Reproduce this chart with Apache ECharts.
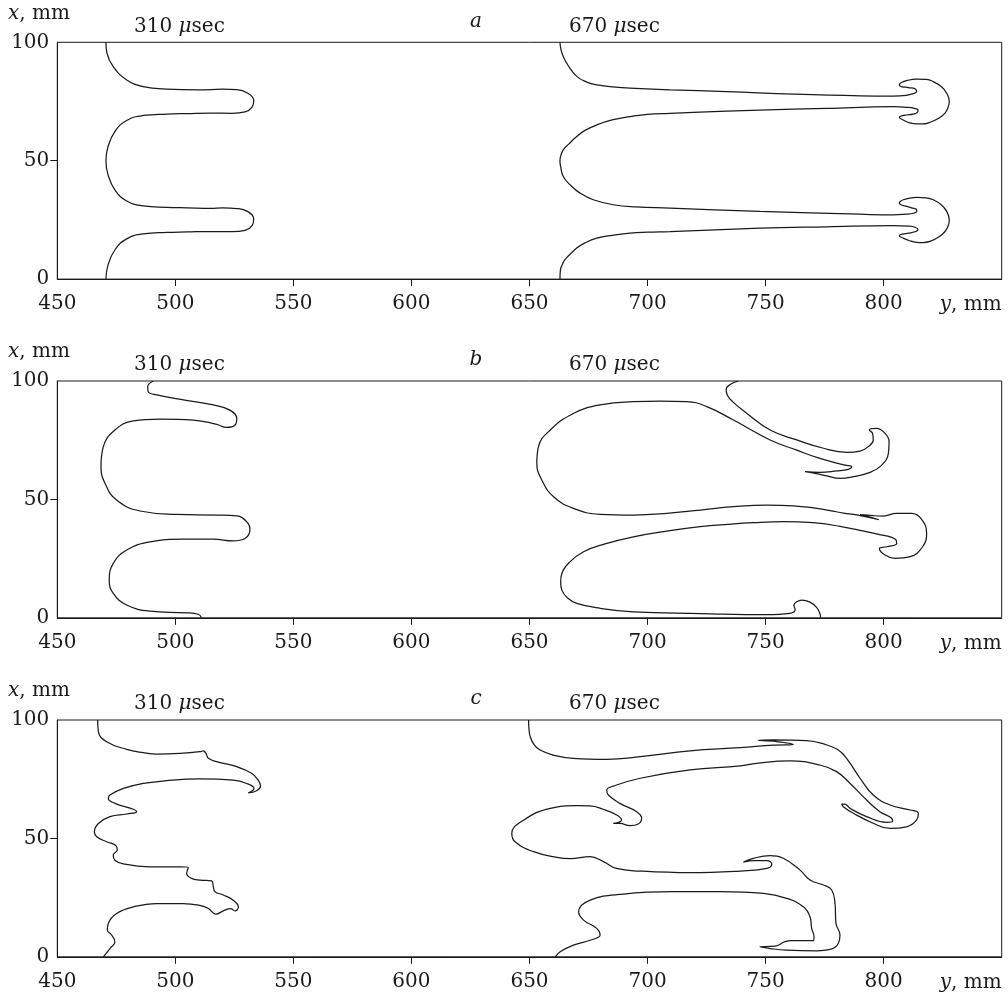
<!DOCTYPE html>
<html><head><meta charset="utf-8">
<script src="https://cdn.jsdelivr.net/npm/echarts@6/dist/echarts.min.js"></script>
<style>html,body{margin:0;padding:0;background:#fff}#c{width:1008px;height:999px}</style>
</head><body><div id="c"></div>
<script>
// Horizontal axis: y, mm ; vertical axis: x, mm. Points are [y, x].
const yTicks = [450, 500, 550, 600, 650, 700, 750, 800];
const xTicks = [0, 50, 100];
const panelLetters = ['a', 'b', 'c'];
const timeLabels = ['310 \u03bcsec', '670 \u03bcsec'];

const a310 = [[470.6,100],[471.0,95.5],[473.7,89.7],[479.4,84.1],[486.4,81.3],[496.3,80.2],[510,79.9],[520,80.2],[526,80.0],[530.5,78.6],[533.2,75.5],[532.5,72.6],[529.5,70.6],[524,70.0],[515,70.1],[505,69.9],[496.3,69.7],[486.4,69.1],[479.4,67.0],[474.5,62.5],[471.5,56],[470.6,50],[471.5,44],[474.5,37.5],[479.4,33.0],[486.4,30.9],[496.3,30.3],[505,30.1],[515,29.9],[520,30.1],[526,29.8],[530.5,28.6],[533.2,25.5],[532.5,22.6],[529.5,20.6],[524,20.0],[515,20.1],[505,19.9],[496.3,19.7],[486.4,19.1],[479.4,17.0],[474.5,12.5],[471.5,6],[470.6,0]];

const a670 = [[662.9,100],[663.3,97],[664.3,94.0],[666.5,90],[670.0,85.6],[674,83.3],[678.5,82.0],[685,81.2],[692.6,80.6],[709.5,79.9],[733.5,79.2],[761.7,78.1],[790.0,77.4],[804.1,77.3],[809.5,77.6],[812.5,78.3],[814.0,79.2],[813.3,80.4],[810.5,80.9],[807.5,81.3],[806.6,82.0],[807.5,83.0],[810,83.9],[814.0,84.4],[818,84.3],[821.0,83.4],[824.5,81.2],[826.7,78.5],[827.8,75.0],[827.2,72.3],[826.0,70.1],[823.5,68],[819.6,66.2],[816.5,65.5],[814.0,65.5],[811,66],[808.3,67.2],[806.6,68.3],[808,69.0],[809.8,69.3],[812.5,69.7],[814.3,70.4],[814.6,71.4],[813,72.1],[810.5,72.5],[804.1,72.8],[775.9,72.1],[747.6,71.4],[719.4,70.4],[709.5,70.0],[700,69.6],[692.6,68.6],[685,67.2],[678.5,65.1],[673.5,62.8],[670.0,60.2],[666.6,57],[664.3,54.6],[663.2,52],[662.9,49.9],[663.2,47.5],[664.3,43.3],[667.5,39.5],[671.4,36.3],[677,33.5],[685.5,31.4],[695,30.5],[709.5,30.0],[747.6,28.6],[790,27.4],[804.1,27.1],[809.5,27.4],[812.6,27.8],[814,28.6],[814,29.3],[811.8,30.1],[809.8,30.7],[807.5,31.3],[806.6,32.1],[807.2,32.9],[808.3,33.5],[811,34.2],[814,34.5],[818,34.3],[821,33.5],[824.5,31.3],[826.7,28.6],[827.8,25.0],[827.3,22.4],[826,20.1],[823.5,17.9],[819.6,15.9],[816.5,15.4],[814,15.5],[811,16.2],[808.3,17.3],[806.6,18.3],[808,19.0],[810.5,19.4],[813.3,20.0],[814.6,20.8],[813.3,21.9],[810.5,22.4],[804.1,22.6],[775.9,22.1],[747.6,21.5],[709.5,20.1],[700,19.8],[692.6,19.4],[685,18.5],[678.5,17.3],[673.5,15.3],[670,13.1],[667.2,10.5],[665,8.2],[663.6,5.5],[663.1,3.9],[662.9,0]];

const b310 = [[490.7,100],[488.3,97.6],[488.5,95.5],[492.1,94.1],[503.4,92.0],[516.1,89.9],[523.1,87.7],[526.0,84.2],[525.3,81.4],[521.7,80.4],[517.5,81.7],[507.6,83.5],[493.5,83.9],[482.2,83.2],[474.4,79.3],[469.5,72.3],[468.5,63.8],[470.2,56.8],[475.1,49.7],[485.0,45.1],[500.5,43.7],[517.5,43.4],[526.0,43.0],[530.2,40.6],[531.6,37.5],[529.5,33.5],[524.5,32.5],[516.1,33.2],[503.4,33.2],[489.2,32.1],[479.4,28.6],[473.7,23.0],[472.0,15.9],[473.7,10.3],[479.4,5.4],[489.2,2.8],[504.8,2.1],[509.7,1.5],[511.1,0]];

const b670 = [[738.5,100],[735,98.5],[733.3,96.5],[733.8,94],[736,91.3],[742.1,86.3],[751.9,79.3],[763.2,75.1],[774.5,71.6],[784.3,69.9],[790.0,70.4],[793.5,72.3],[795.6,75.1],[795.3,77.9],[793.9,79.3],[797.0,80.0],[800.6,77.9],[802.3,74.4],[802.0,69.4],[799.2,64.5],[794.2,61.4],[787.2,59.6],[781.5,58.9],[775.9,59.9],[770.9,61.0],[766.7,61.7],[773.0,61.4],[780.1,62.0],[785.0,62.7],[786.5,63.8],[783.6,64.5],[773.0,67.3],[763.2,70.8],[751.9,75.1],[736.4,83.5],[725.1,89.2],[716.6,91.3],[705.3,91.5],[694.0,91.3],[679.9,89.9],[668.6,86.3],[658.8,79.3],[653.8,72.3],[653.1,65.2],[655.2,58.2],[660.2,51.1],[668.6,46.2],[679.9,43.7],[694.0,43.4],[708.2,44.1],[722.3,45.5],[736.4,46.9],[750.5,47.6],[761.8,47.3],[771.7,46.2],[777.3,45.3],[783,44.2],[788.6,43.5],[798.0,41.4],[794.2,42.5],[790.0,43.6],[794.2,43.3],[799.2,42.9],[805.5,44.1],[811.9,44.1],[816.1,41.6],[818.2,35.6],[816.5,30.0],[811.2,25.8],[804.8,25.1],[800.6,26.5],[798.2,29.3],[801.3,30.0],[805.5,31.4],[805.1,33.1],[797.0,35.4],[781.5,38.6],[770,40.2],[757.6,40.6],[745,40.2],[734,39.5],[722.3,38.5],[708,36.6],[694.0,34.2],[682,31.2],[672.9,27.9],[667,23.5],[663.7,18.7],[663.2,15],[663.7,11.7],[666,8.5],[670.0,6.1],[680,4],[694.0,2.5],[722.3,1.8],[750.5,1.3],[760.3,1.9],[762.5,3.5],[762.0,5.4],[763.2,6.8],[765.3,7.5],[768.8,6.6],[771.6,4.4],[773.0,1.8],[773.3,0]];

const c310 = [[467.1,100],[467.4,95.1],[470.9,90.8],[479.4,87.6],[486.4,86.2],[492.1,85.6],[502.0,85.9],[510.4,86.6],[511.8,87.0],[513.0,85.9],[514.0,83.8],[517.5,82.4],[526.0,80.3],[532.3,77.5],[535.1,74.6],[536.1,72.1],[534.4,70.1],[530.9,69.2],[533.3,71.1],[530.2,73.2],[524.5,74.6],[510.4,75.1],[496.3,74.4],[486.4,73.2],[478.0,71.1],[472.3,68.3],[471.6,66.9],[474.4,64.8],[482.2,62.3],[483.6,61.3],[479.4,60.3],[472.3,59.2],[467.4,56.3],[465.7,52.8],[466.7,50.7],[470.9,48.6],[474.8,47.0],[475.4,45.1],[473.7,43.0],[474.4,40.8],[478.0,39.2],[489.2,38.0],[502.0,38.0],[505.5,37.7],[504.8,35.2],[506.9,33.1],[510.4,32.4],[515.4,32.1],[516.1,29.6],[516.8,27.5],[520.3,26.1],[524.5,23.9],[526.7,21.1],[525.3,19.4],[523.4,20.3],[520.3,19.4],[517.2,18.0],[514.0,20.4],[510.4,21.7],[503.4,22.5],[492.1,22.5],[482.2,21.1],[475.1,18.3],[471.6,14.1],[471.2,11.3],[473.0,9.2],[474.4,6.3],[472.3,3.5],[469.5,0]];

const c670 = [[649.6,100],[649.8,96],[650.3,93.0],[652,89.5],[654.5,87.3],[660,85.2],[668.6,83.8],[682.8,83.4],[696.9,84.5],[718.0,87.0],[739.2,88.3],[753.3,89.4],[761.7,89.7],[754.7,90.9],[746.9,91.4],[753.3,91.6],[767.4,91.3],[775.2,89.7],[780.8,87.3],[784.3,83.8],[790.0,75.4],[795.6,68.3],[802.7,64.1],[811.2,62.0],[814.7,60.6],[814.0,57.8],[809.7,54.9],[802.7,54.2],[795.6,56.4],[787.2,60.6],[782.9,63.4],[782.2,64.5],[783.6,64.5],[785.7,62.7],[792.8,59.2],[801.3,56.8],[803.8,57.1],[803.4,58.5],[798.4,61.3],[792.8,66.2],[785.7,73.3],[780.1,78.2],[773.0,81.0],[760.3,82.7],[746.2,81.7],[739.2,80.6],[718.0,78.9],[696.9,75.4],[685.6,72.1],[682.7,70.4],[683.4,68.3],[688.3,64.8],[695.4,61.3],[697.5,58.5],[696.1,56.1],[692.6,55.4],[688.3,56.3],[685.5,56.3],[689.0,57.8],[686.9,59.9],[681.3,62.3],[675.6,63.7],[670.0,63.8],[658.8,62.7],[647.5,57.7],[642.5,52.1],[643.9,48.6],[651.7,44.4],[661.6,42.0],[667.3,41.5],[675.6,42.3],[681.3,40.2],[686.9,37.3],[696.8,36.2],[718.0,35.5],[739.2,36.2],[750.5,37.3],[752.6,39.2],[750.5,40.6],[745.5,40.6],[740.6,40.0],[744.8,41.6],[751.9,42.7],[757.5,41.6],[764.6,36.6],[768.8,32.4],[774.5,30.3],[778.0,28.2],[779.4,22.5],[779.8,14.1],[781.5,9.2],[780.8,5.6],[777.3,3.1],[771.6,2.5],[758.9,2.8],[751.9,3.5],[747.6,4.2],[754.0,4.5],[758.2,6.4],[761.1,6.8],[770.2,6.8],[770.5,8.5],[769.5,12.0],[768.8,16.9],[766.0,21.1],[758.9,24.7],[749.1,26.8],[730.7,27.5],[711.0,27.5],[689.8,26.5],[675.7,23.9],[670.8,19.0],[672.9,15.5],[678.5,12.0],[679.9,9.2],[675.7,7.0],[668.6,4.9],[663.0,2.1],[660.9,0]];

const panels = [[a310, a670], [b310, b670], [c310, c670]];

const FONT = 'DejaVu Serif';
const INK = '#1a1a1a';
const gridTops = [42.3, 381, 720];
const gridH = 236.8;
const gridLeft = 57.3, gridRight = 6.3;

const grids = [], xAxes = [], yAxes = [], series = [], graphics = [];
gridTops.forEach((top, i) => {
  grids.push({left: gridLeft, right: gridRight, top: top, height: gridH, show: true, borderColor: INK, borderWidth: 1, backgroundColor: 'transparent'});
  xAxes.push({type: 'value', gridIndex: i, min: 450, max: 850, interval: 50,
    axisLine: {show: true, lineStyle: {color: INK, width: 1}},
    axisTick: {show: true, inside: false, length: 7, lineStyle: {color: INK, width: 1}, customValues: yTicks.slice(1)},
    axisLabel: {show: true, margin: 15, fontFamily: FONT, fontSize: 20, color: INK, customValues: yTicks},
    splitLine: {show: false}});
  yAxes.push({type: 'value', gridIndex: i, min: 0, max: 100, interval: 50,
    axisLine: {show: true, lineStyle: {color: INK, width: 1}},
    axisTick: {show: true, inside: false, length: 7, lineStyle: {color: INK, width: 1}, customValues: [50]},
    axisLabel: {show: true, margin: 8, fontFamily: FONT, fontSize: 20, color: INK, customValues: xTicks},
    splitLine: {show: false}});
  panels[i].forEach(curve => {
    series.push({type: 'line', xAxisIndex: i, yAxisIndex: i, data: curve, showSymbol: false, symbol: 'none',
      smooth: 0.45, clip: true, lineStyle: {color: INK, width: 1.25}, animation: false});
  });
  const rich = {i: {fontStyle: 'italic', fontFamily: FONT, fontSize: 20, fill: INK, color: INK}, r: {fontFamily: FONT, fontSize: 20, color: INK}};
  graphics.push({type: 'text', x: 8, y: top - 29, style: {text: '{i|x}{r|, mm}', rich: rich, font: '20px "' + FONT + '"', fill: INK, verticalAlign: 'middle', align: 'left'}});
  graphics.push({type: 'text', x: 134, y: top - 16, style: {text: '{r|310 }{i|\u03bc}{r|sec}', rich: rich, font: '20px "' + FONT + '"', fill: INK, verticalAlign: 'middle', align: 'left'}});
  graphics.push({type: 'text', x: 569, y: top - 16, style: {text: '{r|670 }{i|\u03bc}{r|sec}', rich: rich, font: '20px "' + FONT + '"', fill: INK, verticalAlign: 'middle', align: 'left'}});
  graphics.push({type: 'text', x: 476, y: top - 21, style: {text: panelLetters[i], font: 'italic 20px "' + FONT + '"', fill: INK, verticalAlign: 'middle', align: 'center'}});
  graphics.push({type: 'text', x: 1001.7, y: top + gridH + 26, style: {text: '{i|y}{r|, mm}', rich: rich, font: '20px "' + FONT + '"', fill: INK, verticalAlign: 'middle', align: 'right'}});
});

const chart = echarts.init(document.getElementById('c'), null, {renderer: 'canvas'});
chart.setOption({animation: false, backgroundColor: '#fff', grid: grids, xAxis: xAxes, yAxis: yAxes, series: series, graphic: graphics});
</script></body></html>
